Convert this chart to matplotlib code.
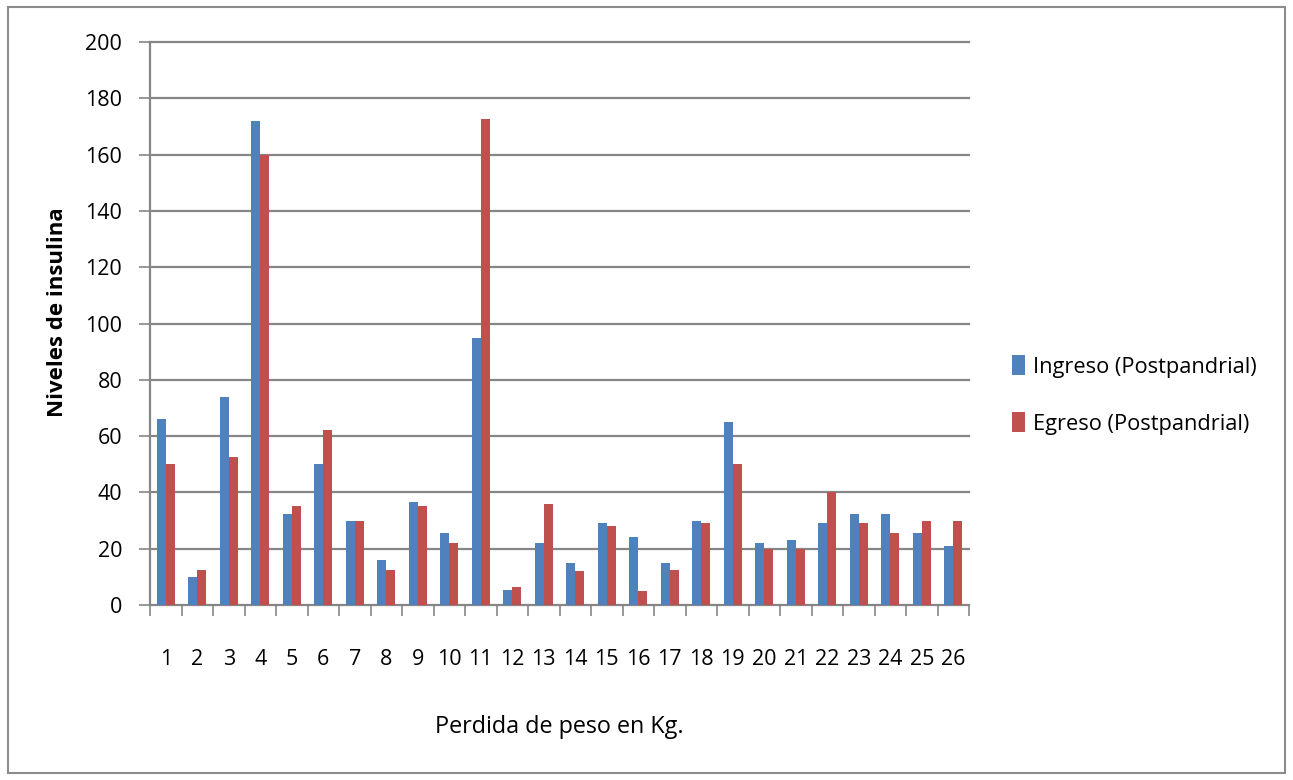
import matplotlib as mpl
import matplotlib.pyplot as plt
import numpy as np
from matplotlib.patches import Rectangle

# Insulin levels per patient, at admission and at discharge
sujetos = [str(i) for i in range(1, 27)]
ingreso = [66, 10, 74, 172, 32.5, 50, 30, 16, 36.5, 25.5, 95, 5.5, 22, 15,
           29, 24, 15, 30, 65, 22, 23, 29, 32.5, 32.5, 25.5, 21]
egreso = [50, 12.5, 52.5, 160, 35, 62, 30, 12.5, 35, 22, 172.5, 6.5, 36, 12,
          28, 5, 12.5, 29, 50, 20, 20, 40, 29, 25.5, 30, 30]
yticks = list(range(0, 201, 20))

plt.rcParams['font.family'] = ['Open Sans', 'DejaVu Sans']
plt.rcParams['font.size'] = 15.5

azul = '#4F81BD'
rojo = '#C0504D'
gris = '#868686'

fig = plt.figure(figsize=(12.93, 7.80), dpi=100)
left, bottom, width, height = [150/1293, 175/780, 819/1293, 563/780]
ax = fig.add_axes([left, bottom, width, height])

x = np.arange(len(sujetos))
w = 0.28
ax.bar(x - w/2, ingreso, width=w, color=azul, label='Ingreso (Postpandrial)', zorder=3)
ax.bar(x + w/2, egreso, width=w, color=rojo, label='Egreso (Postpandrial)', zorder=3)

ax.set_xlim(-0.5, len(sujetos) - 0.5)
ax.set_ylim(0, 200)
ax.set_yticks(yticks)
# horizontal grid lines, drawn unclipped so the top one keeps full width
for yv in yticks[1:]:
    ax.axhline(yv, color=gris, linewidth=1.6, zorder=0, clip_on=False)

# category labels at centres, tick marks at the boundaries
ax.set_xticks(x)
ax.set_xticklabels(sujetos)
ax.set_xticks(np.arange(-0.5, len(sujetos)), minor=True)
ax.xaxis.set_tick_params(which='major', length=0, pad=32)
ax.xaxis.set_tick_params(which='minor', length=8, width=1.2, color=gris, direction='out')
ax.yaxis.set_tick_params(which='major', length=8, width=1.2, color=gris, direction='out', pad=12)

for s in ['top', 'right']:
    ax.spines[s].set_visible(False)
for s in ['left', 'bottom']:
    ax.spines[s].set_color(gris)
    ax.spines[s].set_linewidth(1.6)

ax.set_ylabel('Niveles de insulina', fontweight='bold', fontsize=16)
ax.yaxis.set_label_coords(-0.10, 0.52)
ax.set_xlabel('Perdida de peso en Kg.', fontsize=16.8)
ax.xaxis.set_label_coords(0.5, -0.195)

fig.legend(loc='center left', bbox_to_anchor=(992/1293, 1 - 395/780), frameon=False,
           handlelength=0.6, handleheight=1.0, handletextpad=0.4, labelspacing=1.6,
           fontsize=15.7)

# chart frame
fig.patches.append(Rectangle((8/1293, 7/780), 1277/1293, 766/780, transform=fig.transFigure,
                             fill=False, edgecolor='#8c8c8c', linewidth=1.5))

plt.savefig('out.png', dpi=100)
